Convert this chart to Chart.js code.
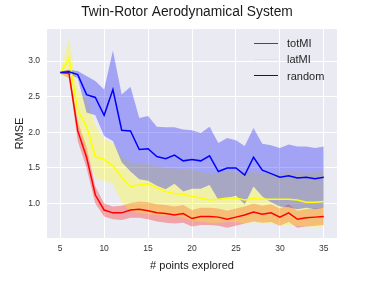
<!DOCTYPE html>
<html lang="en">
<head>
  <meta charset="UTF-8" />
  <title>Twin-Rotor Aerodynamical System</title>
  <script src="https://cdn.jsdelivr.net/npm/chart.js"></script>
  <style>
    body {
      margin: 0;
      background: #ffffff;
      font-family: 'Liberation Sans', Arial, sans-serif;
    }

    .wrap {
      position: relative;
      width: 374px;
      height: 291px;
    }

    .legend {
      position: absolute;
      left: 254px;
      top: 35px;
      font-size: 11px;
      color: #262626;
    }

    .legend .row {
      display: flex;
      align-items: center;
      height: 16.3px;
    }

    .legend .swatch {
      display: inline-block;
      width: 24px;
      height: 0;
      border-top: 1.5px solid;
      margin-right: 9px;
    }
  </style>
</head>
<body>

<div class="wrap">
  <canvas id="rmseChart"></canvas>
  <div class="legend" id="legend"></div>
</div>

<script>
  // number of points explored
  const xs = [5, 6, 7, 8, 9, 10, 11, 12, 13, 14, 15, 16, 17, 18, 19, 20,
              21, 22, 23, 24, 25, 26, 27, 28, 29, 30, 31, 32, 33, 34, 35];

  // totMI (red)
  const totMean = [2.84, 2.83, 2.02, 1.65, 1.12, 0.91, 0.87, 0.87, 0.91, 0.92, 0.90, 0.87, 0.86, 0.84, 0.86, 0.79,
                   0.82, 0.82, 0.81, 0.78, 0.81, 0.84, 0.88, 0.85, 0.87, 0.81, 0.87, 0.78, 0.80, 0.81, 0.82];
  const totLow  = [2.83, 2.76, 1.88, 1.50, 1.00, 0.82, 0.78, 0.77, 0.80, 0.80, 0.78, 0.75, 0.73, 0.72, 0.73, 0.68,
                   0.70, 0.70, 0.69, 0.66, 0.69, 0.72, 0.75, 0.73, 0.74, 0.69, 0.74, 0.66, 0.68, 0.69, 0.70];
  const totHigh = [2.85, 2.88, 2.16, 1.80, 1.24, 1.00, 0.96, 0.97, 1.01, 1.03, 1.02, 0.99, 0.98, 0.96, 0.98, 0.91,
                   0.94, 0.94, 0.93, 0.90, 0.93, 0.96, 1.00, 0.97, 0.99, 0.93, 0.99, 0.90, 0.92, 0.93, 0.94];

  // latMI (yellow)
  const latMean = [2.83, 3.04, 2.31, 2.08, 1.66, 1.62, 1.53, 1.37, 1.24, 1.26, 1.28, 1.22, 1.17, 1.14, 1.13, 1.10,
                   1.08, 1.05, 1.06, 1.08, 1.08, 1.05, 1.07, 1.06, 1.06, 1.06, 1.06, 1.05, 1.02, 1.02, 1.03];
  const latLow  = [2.81, 2.76, 2.10, 1.72, 1.36, 1.32, 1.27, 1.02, 0.89, 0.87, 0.85, 0.84, 0.83, 0.82, 0.80, 0.76,
                   0.75, 0.73, 0.73, 0.74, 0.74, 0.72, 0.74, 0.72, 0.72, 0.70, 0.70, 0.69, 0.68, 0.67, 0.68];
  const latHigh = [2.85, 3.32, 2.60, 2.45, 2.10, 1.90, 1.85, 1.66, 1.58, 1.56, 1.55, 1.52, 1.50, 1.49, 1.48, 1.47,
                   1.45, 1.41, 1.43, 1.45, 1.44, 1.43, 1.44, 1.43, 1.42, 1.43, 1.44, 1.44, 1.43, 1.44, 1.45];

  // random (blue)
  const rndMean = [2.84, 2.85, 2.81, 2.53, 2.49, 2.24, 2.60, 2.03, 2.02, 1.76, 1.77, 1.66, 1.63, 1.68, 1.60, 1.62,
                   1.60, 1.67, 1.45, 1.50, 1.50, 1.40, 1.65, 1.47, 1.42, 1.37, 1.39, 1.36, 1.37, 1.35, 1.37];
  const rndLow  = [2.83, 2.82, 2.76, 2.28, 2.24, 1.95, 1.88, 1.58, 1.45, 1.34, 1.32, 1.25, 1.20, 1.28, 1.17, 1.21,
                   1.21, 1.26, 1.05, 1.08, 1.11, 0.99, 1.24, 1.10, 1.02, 0.96, 0.95, 0.92, 0.94, 0.92, 0.94];
  const rndHigh = [2.85, 2.88, 2.86, 2.79, 2.72, 2.60, 3.15, 2.53, 2.64, 2.20, 2.23, 2.08, 2.07, 2.07, 2.04, 2.03,
                   1.99, 2.08, 1.85, 1.92, 1.89, 1.81, 2.06, 1.84, 1.82, 1.78, 1.83, 1.80, 1.80, 1.78, 1.80];

  const xTicks = [5, 10, 15, 20, 25, 30, 35];
  const yTicks = [1.0, 1.5, 2.0, 2.5, 3.0];

  const series = [
    { name: 'totMI',  color: '#ff0000', band: 'rgba(255, 0, 0, 0.3)',   mean: totMean, low: totLow, high: totHigh },
    { name: 'latMI',  color: '#ffff00', band: 'rgba(255, 255, 0, 0.3)', mean: latMean, low: latLow, high: latHigh },
    { name: 'random', color: '#0000ff', band: 'rgba(0, 0, 255, 0.3)',   mean: rndMean, low: rndLow, high: rndHigh }
  ];

  const pts = arr => xs.map((x, i) => ({ x: x, y: arr[i] }));

  // bands under all lines, later series on top (like matplotlib)
  const datasets = [];
  series.forEach((s, k) => {
    const lowIndex = datasets.length;
    datasets.push({
      data: pts(s.low),
      borderWidth: 0,
      pointRadius: 0,
      fill: false,
      order: 20 - k
    });
    datasets.push({
      data: pts(s.high),
      borderWidth: 0,
      pointRadius: 0,
      backgroundColor: s.band,
      fill: { target: lowIndex },
      order: 10 - k
    });
    datasets.push({
      label: s.name,
      data: pts(s.mean),
      borderColor: s.color,
      borderWidth: 1.5,
      pointRadius: 0,
      fill: false,
      order: 5 - k
    });
  });

  const plotBg = {
    id: 'plotBg',
    beforeDraw(chart) {
      const { ctx, chartArea: a } = chart;
      ctx.save();
      ctx.fillStyle = '#eaeaf2';
      ctx.fillRect(a.left, a.top, a.right - a.left, a.bottom - a.top);
      ctx.restore();
    }
  };

  const font = 'Liberation Sans';

  new Chart(document.getElementById('rmseChart'), {
    type: 'line',
    data: { datasets: datasets },
    plugins: [plotBg],
    options: {
      responsive: true,
      maintainAspectRatio: false,
      animation: false,
      events: [],
      elements: { line: { tension: 0 } },
      layout: { padding: 0 },
      plugins: {
        legend: { display: false },
        tooltip: { enabled: false },
        title: {
          display: true,
          text: 'Twin-Rotor Aerodynamical System',
          color: '#1a1a1a',
          font: { family: font, size: 13.8, weight: 'normal' },
          padding: { top: 3.5, bottom: 9 }
        }
      },
      scales: {
        x: {
          type: 'linear',
          min: 3.5,
          max: 36.5,
          afterBuildTicks: s => { s.ticks = xTicks.map(v => ({ value: v })); },
          afterFit: s => { s.height = 53; },
          grid: { color: '#ffffff', lineWidth: 1, drawTicks: false },
          border: { display: false },
          ticks: { color: '#333333', font: { family: font, size: 8.5 }, padding: 6, maxRotation: 0 },
          title: {
            display: true,
            text: '# points explored',
            color: '#1a1a1a',
            font: { family: font, size: 11 },
            padding: { top: 0, bottom: 18.4 }
          }
        },
        y: {
          min: 0.517,
          max: 3.45,
          afterBuildTicks: s => { s.ticks = yTicks.map(v => ({ value: v })); },
          afterFit: s => { s.width = 47; },
          grid: { color: '#ffffff', lineWidth: 1, drawTicks: false },
          border: { display: false },
          ticks: {
            color: '#333333',
            font: { family: font, size: 8.5 },
            padding: 7,
            callback: v => v.toFixed(1)
          },
          title: {
            display: true,
            text: 'RMSE',
            color: '#1a1a1a',
            font: { family: font, size: 11 },
            padding: { top: 13.4, bottom: 0 }
          }
        },
        // empty right margin so the title centres on the whole figure
        side: {
          position: 'right',
          afterFit: s => { s.width = 37; },
          grid: { display: false },
          border: { display: false },
          ticks: { display: false }
        }
      }
    }
  });

  // legend drawn as html, top right inside the plot
  const legendBox = document.getElementById('legend');
  series.forEach(s => {
    const row = document.createElement('div');
    row.className = 'row';
    row.innerHTML = `<span class="swatch" style="border-color:${s.color}"></span>${s.name}`;
    legendBox.appendChild(row);
  });
</script>

</body>
</html>
